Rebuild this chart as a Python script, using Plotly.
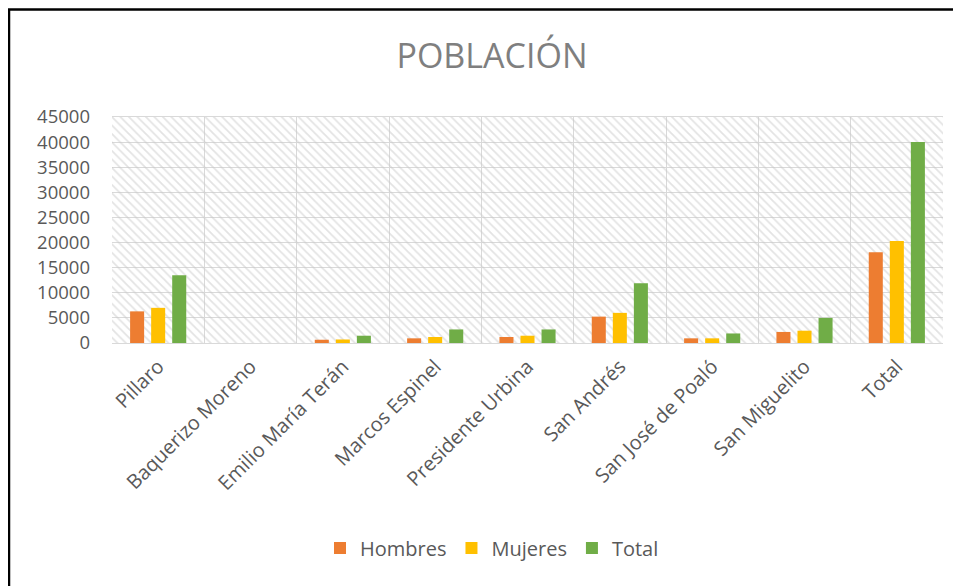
import plotly.graph_objects as go

categories = ["Pillaro", "Baquerizo Moreno", "Emilio María Terán", "Marcos Espinel",
              "Presidente Urbina", "San Andrés", "San José de Poaló", "San Miguelito", "Total"]
hombres = [6300, 0, 650, 930, 1200, 5250, 930, 2200, 18050]
mujeres = [7000, 0, 700, 1200, 1450, 6000, 930, 2450, 20300]
total = [13500, 0, 1450, 2700, 2700, 11900, 1900, 5000, 40000]
y_ticks = [0, 5000, 10000, 15000, 20000, 25000, 30000, 35000, 40000, 45000]

font_family = "Open Sans, Liberation Sans, sans-serif"
grey = "#595959"

W, H = 953, 578
L, R, T, B = 104, 18, 109, 243
PW, PH = W - L - R, H - T - B

fig = go.Figure()

# hatched plot-area background
fig.add_trace(go.Bar(
    x=categories, y=[45000] * len(categories), width=1.0, offset=-0.5,
    marker=dict(color="rgba(0,0,0,0)", line=dict(width=0),
                pattern=dict(shape="\\", fgcolor="#c8c8c8", size=6, solidity=0.3)),
    showlegend=False, hoverinfo="skip",
))

series = [("Hombres", hombres, "#ED7D31", -0.304),
          ("Mujeres", mujeres, "#FFC000", -0.076),
          ("Total", total, "#70AD47", 0.152)]
for name, vals, color, off in series:
    fig.add_trace(go.Bar(
        x=categories, y=vals, name=name, width=0.152, offset=off,
        marker=dict(color=color, line=dict(width=0)),
    ))

fig.update_layout(
    width=W, height=H,
    barmode="overlay",
    paper_bgcolor="white", plot_bgcolor="white",
    margin=dict(l=L, r=R, t=T, b=B),
    title=dict(text="POBLACIÓN", x=484 / W, xanchor="center",
               y=1 - 48 / H, yanchor="middle",
               font=dict(family=font_family, size=34, color="#7f7f7f")),
    font=dict(family=font_family, color=grey),
    legend=dict(orientation="h", x=(484 - L) / PW, xanchor="center",
                y=(PH - (540 - T)) / PH, yanchor="middle",
                font=dict(size=20, color=grey), itemwidth=30, traceorder="normal"),
    xaxis=dict(type="category", tickson="boundaries", showgrid=True, gridcolor="#d9d9d9",
               gridwidth=1, tickangle=-45, tickfont=dict(size=20, color=grey),
               ticks="", showline=True, linecolor="#d9d9d9", mirror=True,
               ticklabelstandoff=3,
               range=[-0.5, len(categories) - 0.5]),
    yaxis=dict(range=[0, 45000], tickvals=y_ticks, tickformat="d",
               showgrid=True, gridcolor="#d9d9d9", gridwidth=1,
               tickfont=dict(size=18.5, color=grey), ticks="", zeroline=False,
               showline=False, ticklabelstandoff=21),
    shapes=[dict(type="rect", xref="paper", yref="paper",
                 x0=(1 - L) / PW, x1=(W + 20 - L) / PW,
                 y0=(PH - (H + 20 - T)) / PH, y1=(PH - (1.5 - T)) / PH,
                 line=dict(color="black", width=2.5), fillcolor="rgba(0,0,0,0)", layer="below")],
)

fig.write_html("out.html")
